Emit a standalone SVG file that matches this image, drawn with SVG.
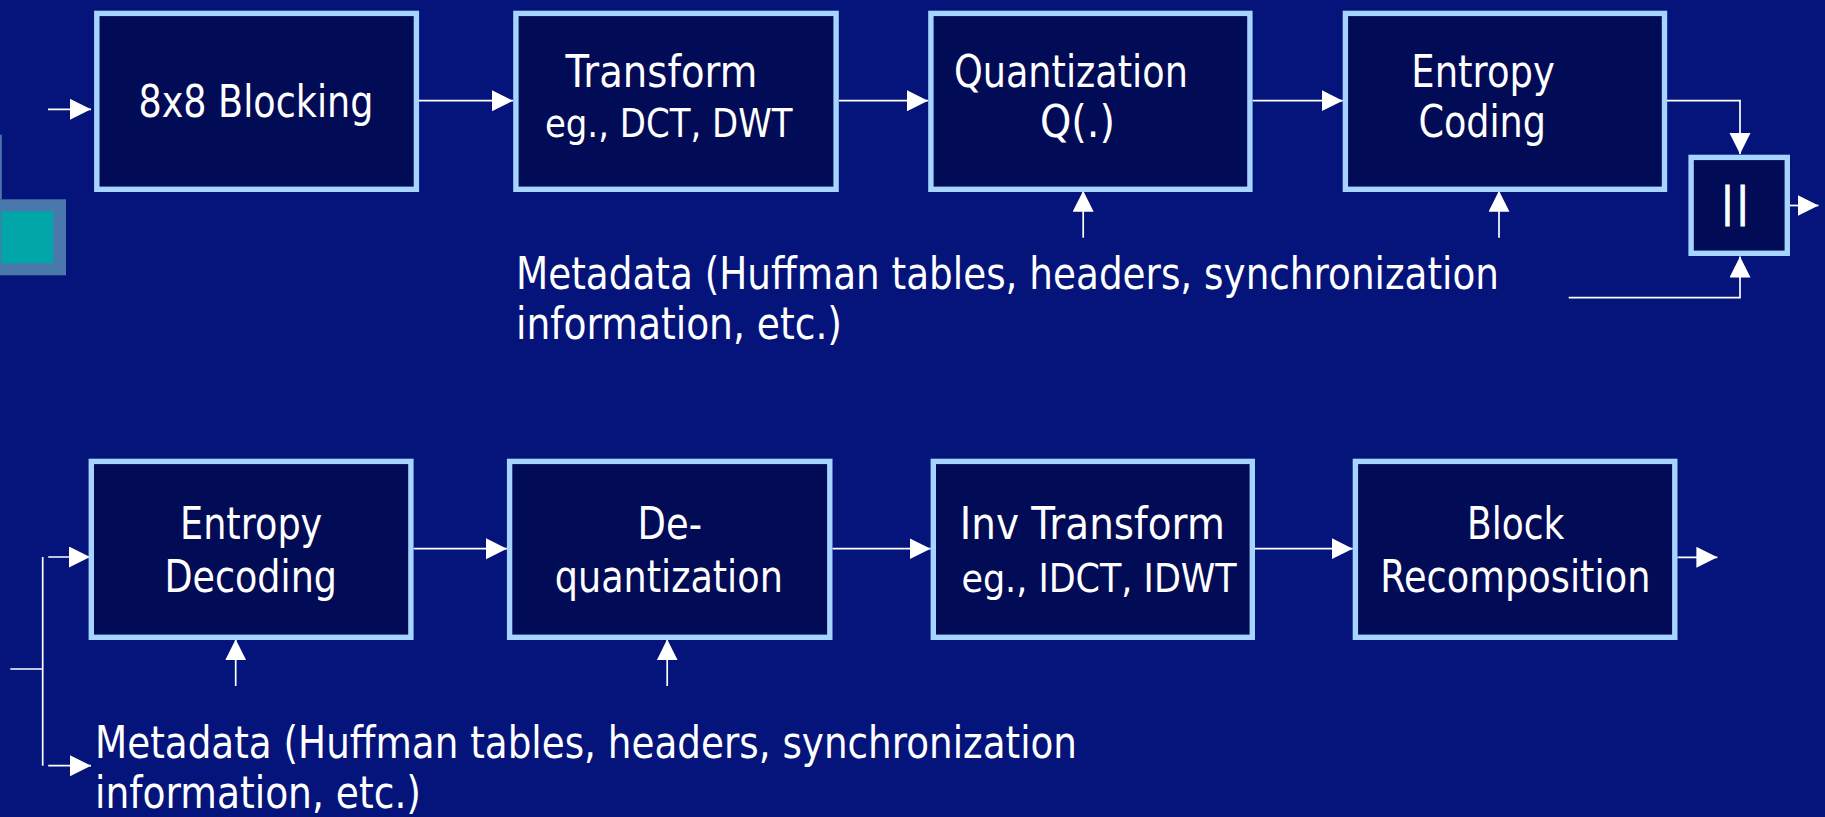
<svg xmlns="http://www.w3.org/2000/svg" width="1825" height="817" viewBox="0 0 1825 817">
<style>
.bg{fill:#04147A}
.box{fill:#020B55;stroke:#A6D4FF;stroke-width:5.4}
.t{fill:#FFFFFF;font-family:"DejaVu Sans","Liberation Sans",sans-serif;font-size:44px}
.s{font-size:39px}
.c{fill:none;stroke:#FFFFFF;stroke-width:1.7}
</style>
<defs>
<marker id="ah" markerUnits="userSpaceOnUse" markerWidth="22" markerHeight="22" refX="21" refY="10.5" orient="auto">
<path d="M0,0 L21,10.5 L0,21 Z" fill="#FFFFFF"/>
</marker>
</defs>
<rect class="bg" x="0" y="0" width="1825" height="817"/>
<g id="decoration">
<rect x="0" y="134.7" width="1.8" height="64.6" fill="#4A78AC"/>
<rect x="0" y="199.3" width="66" height="76" fill="#4A78AC"/>
<rect x="1.3" y="211.3" width="52" height="52" fill="#00A6A8"/>
</g>
<g id="connectors">
<line class="c" x1="48" y1="109.3" x2="91" y2="109.3" marker-end="url(#ah)"/>
<line class="c" x1="419" y1="100.7" x2="513" y2="100.7" marker-end="url(#ah)"/>
<line class="c" x1="839" y1="100.7" x2="928" y2="100.7" marker-end="url(#ah)"/>
<line class="c" x1="1252.6" y1="100.7" x2="1342.7" y2="100.7" marker-end="url(#ah)"/>
<polyline class="c" points="1667,100.7 1740,100.7 1740,154" marker-end="url(#ah)"/>
<line class="c" x1="1083.2" y1="237.7" x2="1083.2" y2="190.7" marker-end="url(#ah)"/>
<line class="c" x1="1499" y1="237.7" x2="1499" y2="190.7" marker-end="url(#ah)"/>
<polyline class="c" points="1568.7,297.7 1740,297.7 1740,256.5" marker-end="url(#ah)"/>
<line class="c" x1="1790" y1="205.5" x2="1818.5" y2="205.5" marker-end="url(#ah)"/>
<line class="c" x1="42.7" y1="557" x2="42.7" y2="765.7"/>
<line class="c" x1="10.3" y1="669" x2="42.7" y2="669"/>
<line class="c" x1="48.2" y1="557" x2="90" y2="557" marker-end="url(#ah)"/>
<line class="c" x1="48.2" y1="765.7" x2="91" y2="765.7" marker-end="url(#ah)"/>
<line class="c" x1="413.6" y1="548.7" x2="506.9" y2="548.7" marker-end="url(#ah)"/>
<line class="c" x1="832.5" y1="548.7" x2="930.6" y2="548.7" marker-end="url(#ah)"/>
<line class="c" x1="1255" y1="548.7" x2="1352.7" y2="548.7" marker-end="url(#ah)"/>
<line class="c" x1="1677.5" y1="557.3" x2="1717.4" y2="557.3" marker-end="url(#ah)"/>
<line class="c" x1="235.7" y1="686" x2="235.7" y2="639.3" marker-end="url(#ah)"/>
<line class="c" x1="667.2" y1="686" x2="667.2" y2="639.3" marker-end="url(#ah)"/>
</g>
<g id="blocking">
<rect class="box" x="96.8" y="13.4" width="319.6" height="175.9"/>
<text class="t" x="138.4" y="117.3" textLength="235" lengthAdjust="spacingAndGlyphs">8x8 Blocking</text>
</g>
<g id="transform">
<rect class="box" x="515.9" y="13.4" width="320.2" height="175.9"/>
<text class="t" x="565.4" y="87.3" textLength="192" lengthAdjust="spacingAndGlyphs">Transform</text>
<text class="t s" x="544.9" y="137.3" textLength="247.7" lengthAdjust="spacingAndGlyphs">eg., DCT, DWT</text>
</g>
<g id="quantization">
<rect class="box" x="930.9" y="13.4" width="319" height="175.9"/>
<text class="t" x="953.9" y="87.3" textLength="234" lengthAdjust="spacingAndGlyphs">Quantization</text>
<text class="t" x="1040" y="137.3" textLength="75" lengthAdjust="spacingAndGlyphs">Q(.)</text>
</g>
<g id="entropy-coding">
<rect class="box" x="1345.4" y="13.4" width="319.1" height="175.9"/>
<text class="t" x="1411.3" y="87.3" textLength="143.5" lengthAdjust="spacingAndGlyphs">Entropy</text>
<text class="t" x="1418.4" y="137.3" textLength="127.6" lengthAdjust="spacingAndGlyphs">Coding</text>
</g>
<g id="concat">
<rect class="box" x="1691.1" y="157.4" width="96.2" height="95.9"/>
<text class="t" x="1720.6" y="216.2" style="font-size:41px;letter-spacing:1.4px;stroke:#FFFFFF;stroke-width:0.9px">||</text>
</g>
<g id="metadata-top">
<text class="t" x="516" y="289.3" textLength="983" lengthAdjust="spacingAndGlyphs">Metadata (Huffman tables, headers, synchronization</text>
<text class="t" x="516" y="339.3" textLength="326" lengthAdjust="spacingAndGlyphs">information, etc.)</text>
</g>
<g id="entropy-decoding">
<rect class="box" x="91.3" y="461.4" width="319.6" height="175.9"/>
<text class="t" x="180" y="539.3" textLength="142.3" lengthAdjust="spacingAndGlyphs">Entropy</text>
<text class="t" x="164.5" y="591.7" textLength="172.4" lengthAdjust="spacingAndGlyphs">Decoding</text>
</g>
<g id="dequantization">
<rect class="box" x="509.6" y="461.4" width="320.2" height="175.9"/>
<text class="t" x="637.6" y="539.3" textLength="64.4" lengthAdjust="spacingAndGlyphs">De-</text>
<text class="t" x="554.8" y="591.7" textLength="228" lengthAdjust="spacingAndGlyphs">quantization</text>
</g>
<g id="inv-transform">
<rect class="box" x="933.3" y="461.4" width="319" height="175.9"/>
<text class="t" x="959.8" y="539.3" textLength="265" lengthAdjust="spacingAndGlyphs">Inv Transform</text>
<text class="t s" x="961.4" y="591.7" textLength="275.3" lengthAdjust="spacingAndGlyphs">eg., IDCT, IDWT</text>
</g>
<g id="block-recomposition">
<rect class="box" x="1355.4" y="461.4" width="319.4" height="175.9"/>
<text class="t" x="1467" y="539.3" textLength="97.3" lengthAdjust="spacingAndGlyphs">Block</text>
<text class="t" x="1380.2" y="591.7" textLength="270.2" lengthAdjust="spacingAndGlyphs">Recomposition</text>
</g>
<g id="metadata-bottom">
<text class="t" x="95" y="758.3" textLength="982" lengthAdjust="spacingAndGlyphs">Metadata (Huffman tables, headers, synchronization</text>
<text class="t" x="95" y="808.3" textLength="326" lengthAdjust="spacingAndGlyphs">information, etc.)</text>
</g>
</svg>
